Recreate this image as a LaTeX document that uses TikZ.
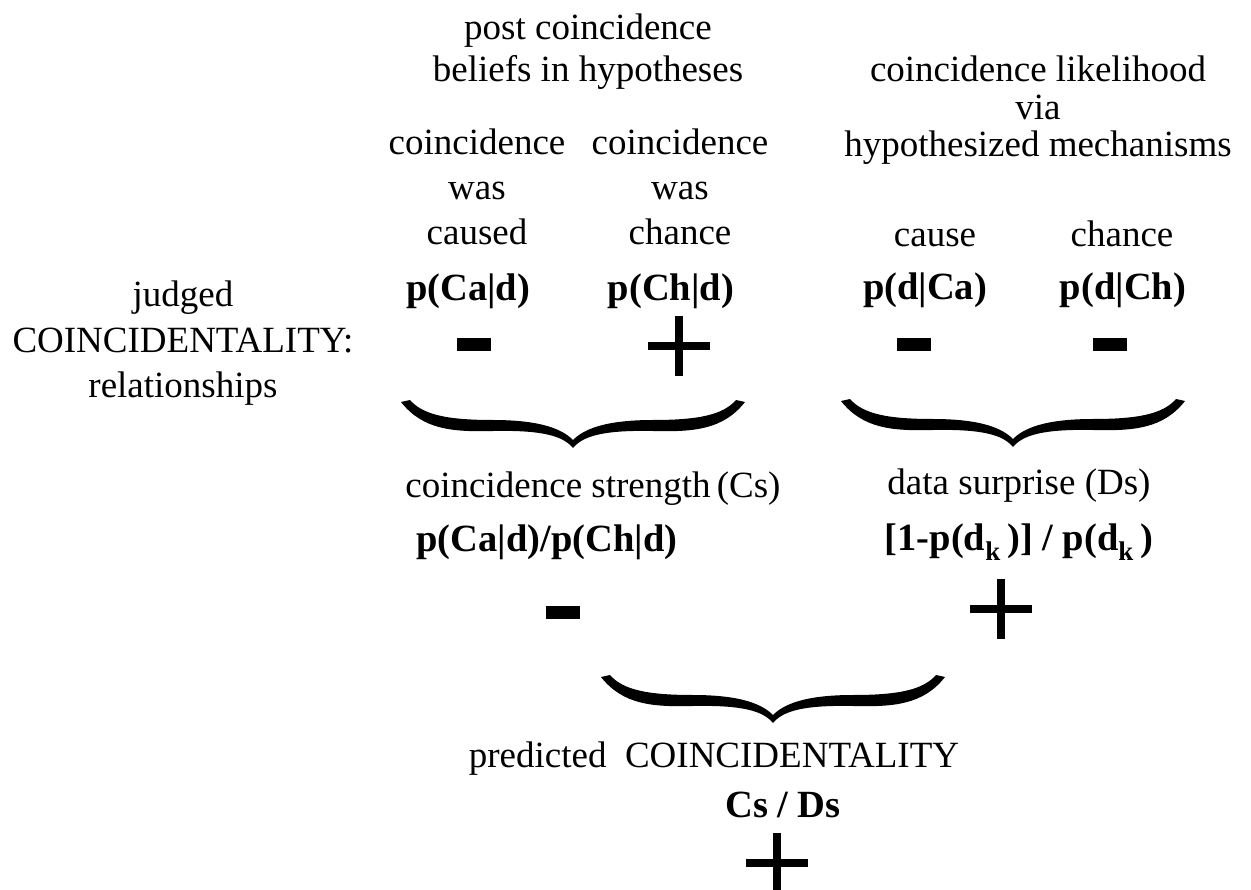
\documentclass[tikz,border=0pt]{standalone}
\usepackage{fontspec}
\setmainfont{Liberation Serif}
\usetikzlibrary{positioning}

\tikzset{
  txt/.style={align=center, inner sep=0pt, anchor=base, font=\fontsize{37}{45}\selectfont},
  formula/.style={txt, font=\fontsize{38.5}{45}\selectfont\bfseries},
  minussign/.style={inner sep=0pt, minimum width=34pt, minimum height=13pt},
  plussign/.style={inner sep=0pt, minimum width=62pt, minimum height=60pt},
  brace/.pic={
    \fill (-172,2) .. controls (-150,30) and (-120,32) .. (-80,31)
      .. controls (-30,30) and (-10,36) .. (0,48)
      .. controls (10,36) and (30,30) .. (80,31)
      .. controls (120,32) and (150,30) .. (172,2)
      -- (163,0) .. controls (150,15) and (125,20) .. (80,20)
      .. controls (30,20) and (10,30) .. (0,40)
      .. controls (-10,30) and (-30,20) .. (-80,20)
      .. controls (-125,20) and (-150,15) .. (-163,0) -- cycle;
  }
}

\begin{document}
\begin{tikzpicture}[x=1pt, y=-1pt]
  \useasboundingbox (0,0) rectangle (1251,890);

  % headings (base = last line)
  \node (beliefs) [txt, font=\fontsize{37}{42}\selectfont] at (588,82) {post coincidence\\beliefs in hypotheses};
  \node (likelihood) [txt, font=\fontsize{37}{37.5}\selectfont] at (1038,157) {coincidence likelihood\\via\\hypothesized mechanisms};

  % hypotheses
  \node (caused) [txt] at (477,245) {coincidence\\was\\caused};
  \node (chance) [txt] at (680,245) {coincidence\\was\\chance};
  \node (cause) [txt] at (935,247) {cause};
  \node (chancemech) [txt] at (1122,247) {chance};

  \node (pcad) [formula] at (468,301) {p(Ca|d)};
  \node (pchd) [formula] at (671,301) {p(Ch|d)};
  \node (pdca) [formula] at (925,300) {p(d|Ca)};
  \node (pdch) [formula] at (1123,300) {p(d|Ch)};

  \node (judged) [txt, font=\fontsize{37}{45.5}\selectfont] at (183,398) {judged\\COINCIDENTALITY:\\relationships};

  % signs of the relationships
  \node (m1) [minussign] at (474,345) {};
  \node (p1) [plussign] at (679,346) {};
  \node (m2) [minussign] at (914,345) {};
  \node (m3) [minussign] at (1110,345) {};

  \pic at (573,400) {brace};
  \pic at (1013,399) {brace};

  % combined measures
  \node (strength) [txt] at (593,497) {coincidence strength\,(Cs)};
  \node (strengthf) [formula] at (547,551) {p(Ca|d)/p(Ch|d)};
  \node (surprise) [txt] at (1019,495) {data surprise (Ds)};
  \node (surprisef) [formula] at (1019,550) {[1-p(d\textsubscript{k}\,)] / p(d\textsubscript{k}\,)};

  \node (m4) [minussign] at (563,612) {};
  \node (p2) [plussign] at (1001,609) {};

  \pic at (773,675) {brace};

  \node (predicted) [txt] at (714,767) {predicted~ COINCIDENTALITY};
  \node (ratio) [formula] at (783,817) {Cs / Ds};
  \node (p3) [plussign] at (777,863) {};

  \foreach \s in {m1,m2,m3,m4}
    \draw [line width=13pt] (\s.west) -- (\s.east);
  \foreach \s in {p1,p2,p3}
    \draw [line width=8pt] (\s.west) -- (\s.east) (\s.north) -- (\s.south);
\end{tikzpicture}
\end{document}
